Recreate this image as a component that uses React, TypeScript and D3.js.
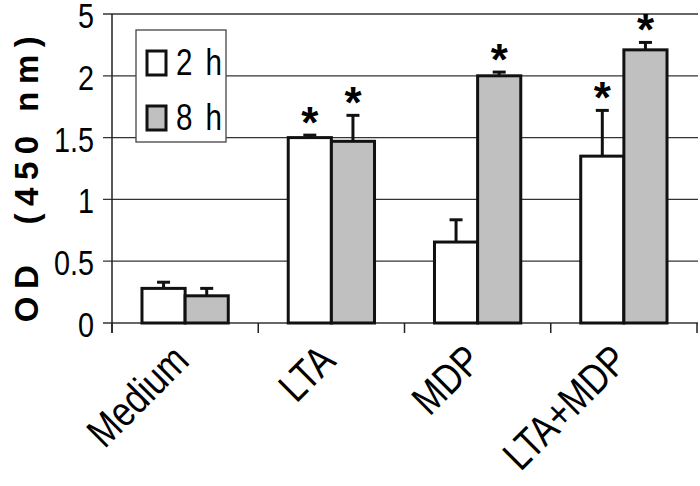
import React from "react";
import * as d3 from "d3";
import { useEffect, useRef } from "react";

// chart values
const categories = ["Medium", "LTA", "MDP", "LTA+MDP"];
const series = ["2 h", "8 h"];
const mean2h = [0.28, 1.5, 0.655, 1.35];
const err2h = [0.05, 0.02, 0.18, 0.37];
const mean8h = [0.22, 1.47, 2.0, 2.21];
const err8h = [0.06, 0.21, 0.03, 0.06];
const star2h = [false, true, false, true];
const star8h = [false, true, true, true];
// broken axis: the top tick is labelled 5
const yTickPos = [0, 0.5, 1, 1.5, 2, 2.5];
const yTickLabels = ["0", "0.5", "1", "1.5", "2", "5"];

const W = 700;
const H = 486;
const FONT = "'Liberation Sans', Arial, sans-serif";
const NARROW = 0.8; // no narrow face installed, squeeze horizontally

const App = () => {
  const ref = useRef(null);

  useEffect(() => {
    const svg = d3.select(ref.current);
    svg.selectAll("*").remove();

    const left = 112;
    const right = 697;
    const top = 14;
    const bottom = 323;

    const x0 = d3
      .scaleBand()
      .domain(categories)
      .range([left, right])
      .paddingInner(0.41)
      .paddingOuter(0.205);
    const x1 = d3.scaleBand().domain(series).range([0, x0.bandwidth()]);
    const y = d3.scaleLinear().domain([0, 2.5]).range([bottom, top]);

    // gridlines
    svg
      .append("g")
      .selectAll("line")
      .data(yTickPos)
      .join("line")
      .attr("x1", left - 9)
      .attr("x2", right + 1)
      .attr("y1", (d) => y(d))
      .attr("y2", (d) => y(d))
      .attr("stroke", "#333")
      .attr("stroke-width", 1.3);

    // y labels
    svg
      .append("g")
      .selectAll("text")
      .data(yTickPos)
      .join("text")
      .attr("transform", (d) => `translate(94,${y(d) + 14}) scale(${NARROW},1)`)
      .attr("text-anchor", "end")
      .attr("font-family", FONT)
      .attr("font-size", 36)
      .text((d, i) => yTickLabels[i]);

    // y axis line
    svg
      .append("line")
      .attr("x1", left)
      .attr("x2", left)
      .attr("y1", top)
      .attr("y2", bottom + 10)
      .attr("stroke", "#222")
      .attr("stroke-width", 1.5);

    // x ticks at band boundaries
    const bounds = categories.map((c) => x0(c) - x0.step() * 0.205).concat([right]);
    svg
      .append("g")
      .selectAll("line")
      .data(bounds)
      .join("line")
      .attr("x1", (d) => d)
      .attr("x2", (d) => d)
      .attr("y1", bottom)
      .attr("y2", bottom + 10)
      .attr("stroke", "#222")
      .attr("stroke-width", 1.5);

    // bars
    const rows = [];
    categories.forEach((c, i) => {
      rows.push({ cat: c, s: "2 h", v: mean2h[i], e: err2h[i], star: star2h[i], fill: "#ffffff" });
      rows.push({ cat: c, s: "8 h", v: mean8h[i], e: err8h[i], star: star8h[i], fill: "#c0c0c0" });
    });
    const cx = (d) => x0(d.cat) + x1(d.s) + x1.bandwidth() / 2;

    const g = svg.append("g");
    g.selectAll("line.err")
      .data(rows)
      .join("line")
      .attr("class", "err")
      .attr("x1", cx)
      .attr("x2", cx)
      .attr("y1", (d) => y(d.v))
      .attr("y2", (d) => y(d.v + d.e))
      .attr("stroke", "#111")
      .attr("stroke-width", 3);
    g.selectAll("line.cap")
      .data(rows)
      .join("line")
      .attr("class", "cap")
      .attr("x1", (d) => cx(d) - 6.5)
      .attr("x2", (d) => cx(d) + 6.5)
      .attr("y1", (d) => y(d.v + d.e))
      .attr("y2", (d) => y(d.v + d.e))
      .attr("stroke", "#111")
      .attr("stroke-width", 3);
    g.selectAll("rect")
      .data(rows)
      .join("rect")
      .attr("x", (d) => x0(d.cat) + x1(d.s))
      .attr("y", (d) => y(d.v))
      .attr("width", x1.bandwidth())
      .attr("height", (d) => y(0) - y(d.v))
      .attr("fill", (d) => d.fill)
      .attr("stroke", "#111")
      .attr("stroke-width", 3);

    // significance stars
    g.selectAll("text.star")
      .data(rows.filter((d) => d.star))
      .join("text")
      .attr("class", "star")
      .attr("x", cx)
      .attr("y", (d) => y(d.v + d.e) + 3)
      .attr("text-anchor", "middle")
      .attr("font-family", FONT)
      .attr("font-weight", "bold")
      .attr("font-size", 44)
      .text("*");

    // category labels
    svg
      .append("g")
      .selectAll("text")
      .data(categories)
      .join("text")
      .attr(
        "transform",
        (d) => `translate(${x0(d) + x0.bandwidth() / 2 + 6},${bottom + 40}) rotate(-45) scale(0.82,1)`
      )
      .attr("text-anchor", "end")
      .attr("font-family", FONT)
      .attr("font-size", 42)
      .text((d) => d);

    // y title
    svg
      .append("text")
      .attr("transform", `translate(38,${(top + bottom) / 2 + 7}) rotate(-90)`)
      .attr("text-anchor", "middle")
      .attr("font-family", FONT)
      .attr("font-weight", "bold")
      .attr("font-size", 33)
      .attr("letter-spacing", 7.5)
      .style("white-space", "pre")
      .text("OD  (450 nm)");

    // legend
    const lg = svg.append("g");
    lg.append("rect")
      .attr("x", 136)
      .attr("y", 30)
      .attr("width", 90)
      .attr("height", 112)
      .attr("fill", "#fff")
      .attr("stroke", "#444")
      .attr("stroke-width", 1.3);
    series.forEach((s, i) => {
      lg.append("rect")
        .attr("x", 147)
        .attr("y", 51 + i * 55)
        .attr("width", 19)
        .attr("height", 24)
        .attr("fill", i === 0 ? "#ffffff" : "#c0c0c0")
        .attr("stroke", "#111")
        .attr("stroke-width", 3);
      lg.append("text")
        .attr("transform", `translate(176,${75 + i * 55}) scale(${NARROW},1)`)
        .attr("font-family", FONT)
        .attr("font-size", 37)
        .attr("letter-spacing", 3)
        .text(s);
    });
  }, []);

  return (
    <div style={{ position: "absolute", left: 0, top: 0 }}>
      <svg ref={ref} width={W} height={H} style={{ background: "#fff", display: "block" }}></svg>
    </div>
  );
};

export default App;
